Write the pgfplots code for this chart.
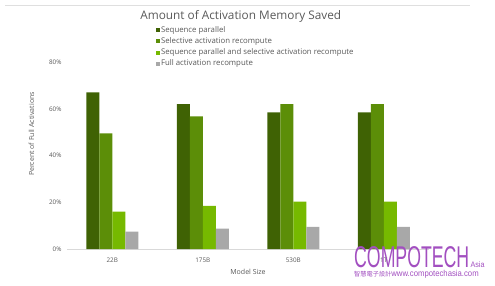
\documentclass[border=0pt]{standalone}
\usepackage{pgfplots}
\pgfplotsset{compat=1.18}
\usepackage{fontspec}
\setmainfont{Open Sans}
\newfontfamily\cjk{Noto Sans CJK TC}
\newfontfamily\wm{Liberation Sans}[FakeStretch=0.59]
\newfontfamily\wmu{Liberation Sans}[FakeStretch=0.9]
\definecolor{gA}{HTML}{3F6204}
\definecolor{gB}{HTML}{5C8E08}
\definecolor{gC}{HTML}{76B900}
\definecolor{gD}{HTML}{A8A8A8}
\definecolor{txt}{HTML}{595959}
\definecolor{wmc}{HTML}{A24FC0}
\begin{document}
\begin{tikzpicture}
\draw[gray!25, line width=0.8pt] (5pt,280pt) -- (470pt,280pt);
\begin{axis}[
  at={(67pt,36pt)}, anchor=south west,
  scale only axis, width=362pt, height=187pt,
  ybar=0pt, bar width=13pt,
  xmin=-0.5, xmax=3.5, ymin=0, ymax=80,
  xtick={0,1,2,3}, xticklabels={22B,175B,530B,1T},
  ytick={0,20,40,60,80},
  yticklabel={\pgfmathprintnumber{\tick}\%},
  /pgf/number format/assume math mode=true,
  axis y line*=left,
  axis x line*=bottom,
  y axis line style={draw=none},
  x axis line style={gray!30, -},
  tick style={draw=none},
  yticklabel style={xshift=-2pt},
  xticklabel style={yshift=-1pt},
  ticklabel style={font=\fontsize{6.3}{7}\selectfont, text=txt},
  xlabel={Model Size}, ylabel={Percent of Full Activations},
  label style={font=\fontsize{7}{8}\selectfont, text=txt},
  xlabel style={yshift=0pt},
  ylabel style={at={(ticklabel cs:0.615)}, yshift=8pt},
  title={Amount of Activation Memory Saved},
  title style={font=\fontsize{11.8}{13}\selectfont, text=txt, at={(0.48,1)}, yshift=30pt, anchor=south},
  legend style={at={(0.245,1.198)}, anchor=north west, draw=none, fill=none,
    font=\fontsize{7.8}{9}\selectfont, text=txt, row sep=1.4pt,
    inner sep=0pt, nodes={inner sep=1.2pt}},
  legend cell align=left,
  legend image code/.code={\fill[#1] (0pt,-2pt) rectangle (4pt,2pt);},
  enlarge x limits=false, clip=false,
]
\addplot[fill=gA, draw=none] coordinates {(0,67.0) (1,62.0) (2,58.5) (3,58.5)};
\addplot[fill=gB, draw=none] coordinates {(0,49.5) (1,56.7) (2,62.0) (3,62.0)};
\addplot[fill=gC, draw=none] coordinates {(0,16.0) (1,18.4) (2,20.3) (3,20.3)};
\addplot[fill=gD, draw=none] coordinates {(0,7.4) (1,8.7) (2,9.5) (3,9.5)};
\legend{Sequence parallel, Selective activation recompute, Sequence parallel and selective activation recompute, Full activation recompute}
\end{axis}
\node[anchor=base west, inner sep=0pt, text=wmc] at (354pt,18pt) {\wm\fontsize{30}{30}\selectfont COMPOTECH\wmu\fontsize{8}{9}\selectfont\,Asia};
\node[anchor=base west, inner sep=0pt, text=wmc] at (354pt,8.5pt) {\cjk\fontsize{6.2}{7}\selectfont 智慧電子設計\wmu\fontsize{8.6}{9}\selectfont www.compotechasia.com};
\pgfresetboundingbox
\path[use as bounding box] (0pt,0pt) rectangle (495pt,285pt);
\end{tikzpicture}
\end{document}
